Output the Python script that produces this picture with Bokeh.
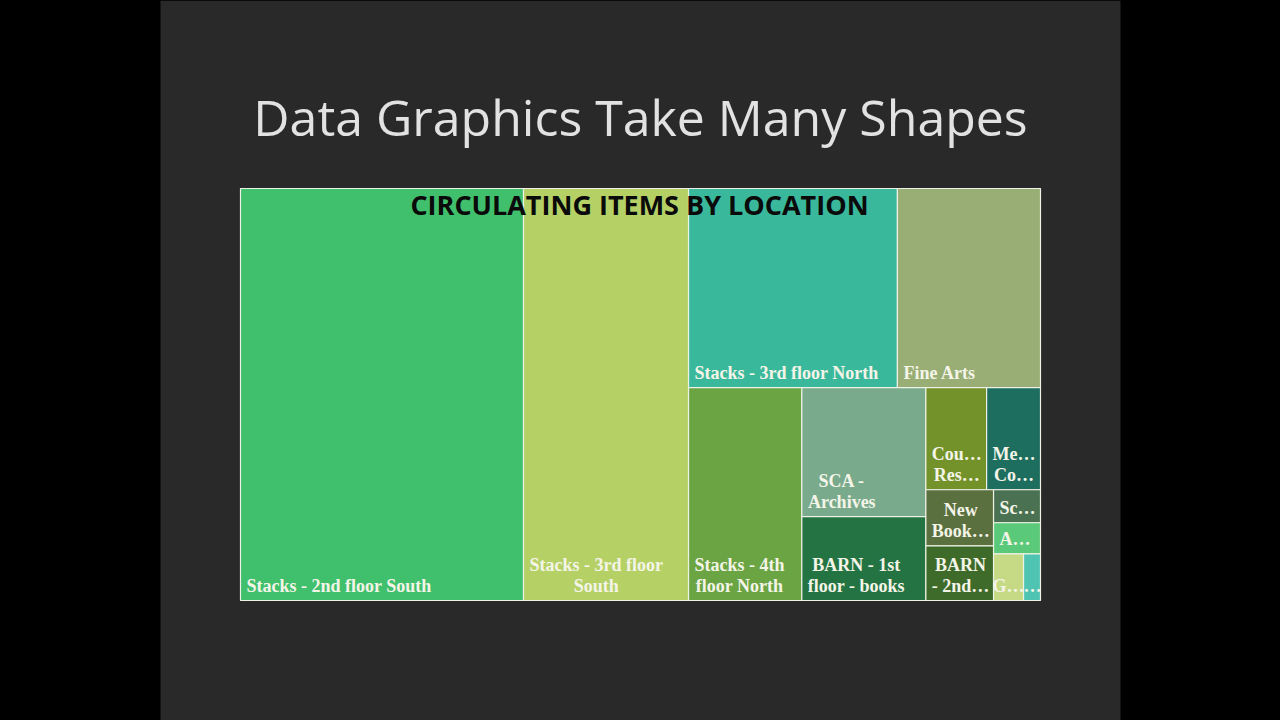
from bokeh.plotting import figure
from bokeh.models import Range1d, ColumnDataSource, GlobalInlineStyleSheet
from bokeh.core.properties import value
from bokeh.embed import file_html
from bokeh.resources import INLINE

# ---------------- data ----------------
locations = [
    "Stacks - 2nd floor South", "Stacks - 3rd floor\nSouth", "Stacks - 3rd floor North",
    "Fine Arts", "Stacks - 4th\nfloor North", "SCA -\nArchives", "BARN - 1st\nfloor - books",
    "Cou\u2026\nRes\u2026", "Me\u2026\nCo\u2026", "New\nBook\u2026", "BARN\n- 2nd\u2026",
    "Sc\u2026", "A\u2026", "G\u2026", "\u2026",
]
items = [116600, 68000, 41600, 28500, 24100, 16000, 10400,
         6200, 5500, 3800, 3700, 1550, 1460, 1400, 790]
colors = ["#40C06C", "#B5D165", "#3AB89B", "#98AE74", "#6AA443", "#78AA8B", "#247443",
          "#739229", "#1E6E5F", "#5B703F", "#3E6B2A", "#4A7252", "#5BC97A", "#C6DA86", "#50C4B2"]

# strip grouping used by the treemap layout (items per strip)
strips = [1, 1, 2, 1, 2, 2, 2, 1, 1, 1, 1]

# ---------------- layout ----------------
TX, TY, TW, TH = 240.0, 188.0, 800.0, 412.0


def treemap(vals, x, y, w, h, counts):
    scale = w * h / float(sum(vals))
    areas = [v * scale for v in vals]
    out = []
    i = 0
    for c in counts:
        grp = areas[i:i + c]
        s = sum(grp)
        if w >= h:
            sw = s / h
            yy = y
            for a in grp:
                hh = a / sw
                out.append((x, yy, x + sw, yy + hh))
                yy += hh
            x += sw
            w -= sw
        else:
            sh = s / w
            xx = x
            for a in grp:
                ww = a / sh
                out.append((xx, y, xx + ww, y + sh))
                xx += ww
            y += sh
            h -= sh
        i += c
    return out


rects = treemap(items, TX, TY, TW, TH, strips)

# Times-Bold-like advance widths (per 1000 em) to center label lines in their block
CW = {" ": 250, "-": 333, "\u2026": 1000, "A": 722, "B": 667, "C": 722, "F": 611, "G": 778,
      "M": 944, "N": 722, "R": 722, "S": 556, "E": 667, "a": 500, "b": 556, "c": 444,
      "d": 556, "e": 444, "f": 333, "h": 556, "i": 278, "k": 556, "l": 278, "n": 556,
      "o": 500, "r": 444, "s": 389, "t": 333, "u": 556, "v": 500, "w": 722}
FS = 18


def tw(s):
    return sum(CW.get(ch, 500) for ch in s) * FS / 1000.0


lx, ly, lt = [], [], []
for (x0, y0, x1, y1), lab in zip(rects, locations):
    lines = lab.split("\n")
    bw = max(tw(l) for l in lines)
    cx = min(x0 + 6 + bw / 2.0, x1 - bw / 2.0 + 1)
    n = len(lines)
    for k, line in enumerate(lines):
        lx.append(cx)
        ly.append(y1 - 15 - (n - 1 - k) * 21)
        lt.append(line)

# ---------------- figure ----------------
p = figure(width=1280, height=720, x_range=Range1d(0, 1280), y_range=Range1d(720, 0),
           output_backend="svg", toolbar_location=None, min_border=0)
p.axis.visible = False
p.grid.visible = False
p.outline_line_color = None
p.background_fill_color = "#000000"
p.border_fill_color = "#000000"
p.stylesheets = [GlobalInlineStyleSheet(css="body{background:#000000;}")]

# slide panel
p.quad(left=[160], right=[1120], top=[0], bottom=[720], fill_color="#292929", line_color=None)

p.text(x=[640], y=[116], text=["Data Graphics Take Many Shapes"], text_align="center",
       text_baseline="alphabetic", text_font=value("Open Sans"), text_font_size="50px",
       text_color="#E2E2E2")

src = ColumnDataSource(dict(
    left=[r[0] for r in rects], right=[r[2] for r in rects],
    top=[r[1] for r in rects], bottom=[r[3] for r in rects], color=colors))
p.quad(left="left", right="right", top="top", bottom="bottom", fill_color="color",
       line_color="#EEF2E6", line_width=1.2, source=src)

p.text(x=lx, y=ly, text=lt, text_align="center", text_baseline="alphabetic",
       text_font=value("Liberation Serif"), text_font_style="bold", text_font_size="18px",
       text_color="#F4F4E8")

p.text(x=[639], y=[204], text=["CIRCULATING ITEMS BY LOCATION"], text_align="center",
       text_baseline="alphabetic", text_font=value("Open Sans"), text_font_style="bold",
       text_font_size="27px", text_color="#0A0A0A")

open("out.html", "w").write(file_html(p, INLINE))
